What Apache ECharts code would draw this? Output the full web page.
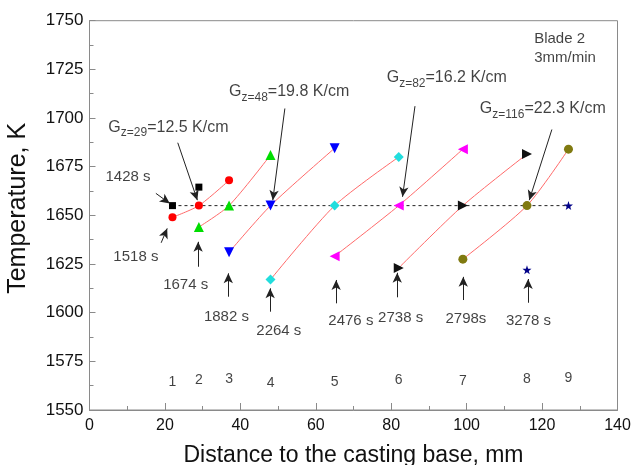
<!DOCTYPE html>
<html><head><meta charset="utf-8">
<script src="https://cdn.jsdelivr.net/npm/echarts@6/dist/echarts.min.js"></script>
<style>html,body{margin:0;padding:0;background:#fff}#c{width:632px;height:465px}</style>
</head><body><div id="c"></div>
<script>
// ---- data (distance mm, temperature K) ----
const curve1 = [[22, 1655], [29, 1664.5]];
const curve2 = [[22, 1649], [29, 1655], [37, 1668]];
const curve3 = [[29, 1644], [37, 1655], [48, 1681]];
const curve4 = [[37, 1631], [48, 1655], [65, 1684.5]];
const curve5 = [[48, 1617], [65, 1655], [82, 1680]];
const curve6 = [[65, 1629], [82, 1655], [99, 1684]];
const curve7 = [[82, 1623], [99, 1655], [116, 1681.5]];
const curve8 = [[99, 1627.5], [116, 1655], [127, 1684]];
const curve9 = [[116, 1622], [127, 1655]];

const isothermTemp = 1655;
const isothermRange = [22, 127];

const positionNumbers = ['1', '2', '3', '4', '5', '6', '7', '8', '9'];
const positionX = [22, 29, 37, 48, 65, 82, 99, 116, 127];
const positionNumberY = [1564.5, 1565.5, 1566, 1564, 1564.5, 1565.5, 1565, 1566, 1566.5];

const timeLabels = ['1428 s', '1518 s', '1674 s', '1882 s', '2264 s', '2476 s', '2738 s', '2798s', '3278 s'];
const timeLabelAt = [[10.2, 1669.6], [12.3, 1628.7], [25.5, 1614.5], [36.3, 1597.6], [50.2, 1590.6],
                     [69.3, 1595.9], [82.5, 1597.1], [99.8, 1596.6], [116.4, 1595.9]];
const timeArrows = [
  [[17.6, 1661.3], [21.3, 1656.1]],
  [[19.0, 1635.9], [20.6, 1643.3]],
  [[28.8, 1623.6], [28.8, 1636.4]],
  [[36.8, 1608.2], [36.8, 1620.2]],
  [[47.9, 1600.5], [47.9, 1612.5]],
  [[65.4, 1604.8], [65.4, 1616.8]],
  [[81.6, 1607.9], [81.6, 1620.5]],
  [[99.1, 1606.5], [99.1, 1618.4]],
  [[116.3, 1605.1], [116.3, 1617.3]]
];

const gzSub = ['z=29', 'z=48', 'z=82', 'z=116'];
const gzValue = ['=12.5 K/cm', '=19.8 K/cm', '=16.2 K/cm', '=22.3 K/cm'];
const gzLabelAt = [[5.0, 1695.3], [37.0, 1713.4], [78.8, 1720.8], [103.5, 1704.9]];
const gzArrows = [
  [[23.4, 1687.3], [28.6, 1657.8]],
  [[51.8, 1704.9], [48.6, 1657.8]],
  [[86.3, 1706.1], [83.0, 1659.5]],
  [[122.6, 1694.1], [116.6, 1657.8]]
];

const noteLines = ['Blade 2', '3mm/min'];
const noteAt = [[117.9, 1740.5], [117.9, 1730.7]];

// ---- styles ----
const FONT = '"Liberation Sans", Arial, sans-serif';
const TXT = '#111111';
const curveColor = '#ff6a6a';
const starPath = 'path://M0,-10L2.35,-3.24L9.51,-3.09L3.8,1.24L5.88,8.09L0,4L-5.88,8.09L-3.8,1.24L-9.51,-3.09L-2.35,-3.24Z';

const markerDefs = [
  {data: curve1, symbol: 'rect', size: 7, color: '#000000', rot: 0, line: false},
  {data: curve2, symbol: 'circle', size: 8, color: '#ff0000', rot: 0, line: true},
  {data: curve3, symbol: 'triangle', size: 10, color: '#00dd00', rot: 0, line: true},
  {data: curve4, symbol: 'triangle', size: 10, color: '#0000ff', rot: 180, line: true},
  {data: curve5, symbol: 'diamond', size: 10, color: '#22dddd', rot: 0, line: true},
  {data: curve6, symbol: 'triangle', size: 10, color: '#ff00ff', rot: 90, line: true},
  {data: curve7, symbol: 'triangle', size: 10, color: '#111111', rot: -90, line: true},
  {data: curve8, symbol: 'circle', size: 9, color: '#807a10', rot: 0, line: true},
  {data: curve9, symbol: starPath, size: 9, color: '#000088', rot: 0, line: false}
];

const series = [];

// isotherm dashed line + arrows
series.push({
  type: 'line',
  data: [[isothermRange[0], isothermTemp], [isothermRange[1], isothermTemp]],
  symbol: 'none',
  lineStyle: {color: '#222', width: 1, type: [3, 3]},
  silent: true, z: 1,
  markLine: {
    silent: true,
    symbol: ['none', 'arrow'],
    symbolSize: [7, 10],
    label: {show: false},
    lineStyle: {color: '#222', width: 1, type: 'solid'},
    emphasis: {disabled: true},
    data: timeArrows.concat(gzArrows).map(a => [{coord: a[0]}, {coord: a[1]}])
  }
});

markerDefs.forEach((m, i) => {
  series.push({
    type: 'line',
    name: 'pos' + (i + 1),
    data: m.data,
    smooth: 0.25,
    symbol: m.symbol,
    symbolSize: m.size,
    symbolRotate: m.rot,
    showAllSymbol: true,
    itemStyle: {color: m.color},
    lineStyle: m.line ? {color: curveColor, width: 1} : {width: 0, opacity: 0},
    silent: true, z: 3
  });
});

function labelSeries(points, texts, labelOpt) {
  return {
    type: 'scatter',
    data: points.map((p, i) => ({value: p, name: texts[i]})),
    symbolSize: 1,
    itemStyle: {color: 'rgba(0,0,0,0)'},
    silent: true, z: 5,
    label: Object.assign({show: true, position: 'inside', formatter: p => p.name,
      color: TXT, fontFamily: FONT}, labelOpt)
  };
}

series.push(labelSeries(timeLabelAt, timeLabels, {fontSize: 15}));
series.push(labelSeries(positionX.map((x, i) => [x, positionNumberY[i]]), positionNumbers, {fontSize: 14}));
series.push(labelSeries(noteAt, noteLines, {fontSize: 15, align: 'left'}));
series.push({
  type: 'scatter',
  data: gzLabelAt.map((p, i) => ({value: p, name: '{m|G}{s|' + gzSub[i] + '}{m|' + gzValue[i] + '}'})),
  symbolSize: 1,
  itemStyle: {color: 'rgba(0,0,0,0)'},
  silent: true, z: 5,
  label: {
    show: true, position: 'inside', align: 'left',
    formatter: p => p.name,
    rich: {
      m: {fontSize: 16, color: TXT, fontFamily: FONT},
      s: {fontSize: 12, color: TXT, fontFamily: FONT, padding: [12, 0, 0, 0]}
    }
  }
});

const chart = echarts.init(document.getElementById('c'), null, {renderer: 'canvas'});
chart.setOption({
  animation: false,
  backgroundColor: '#fff',
  grid: {left: 89.5, right: 14.5, top: 20.7, bottom: 55, containLabel: false, outerBoundsMode: 'none',
         show: true, borderColor: '#8a8a8a', borderWidth: 1, backgroundColor: 'transparent'},
  xAxis: {
    type: 'value', min: 0, max: 140, interval: 20,
    name: 'Distance to the casting base, mm', nameLocation: 'middle', nameGap: 34,
    nameTextStyle: {fontSize: 23, color: TXT, fontFamily: FONT},
    axisLine: {show: true, lineStyle: {color: '#8a8a8a'}},
    axisTick: {show: true, inside: true, length: 7, lineStyle: {color: '#8a8a8a'}},
    minorTick: {show: true, splitNumber: 2, length: 4, lineStyle: {color: '#8a8a8a'}},
    axisLabel: {fontSize: 16, color: TXT, fontFamily: FONT, margin: 8},
    splitLine: {show: false}
  },
  yAxis: {
    type: 'value', min: 1550, max: 1750, interval: 25,
    name: 'Temperature, K', nameLocation: 'middle', nameGap: 59,
    nameTextStyle: {fontSize: 25, color: TXT, fontFamily: FONT, padding: [0, 0, 0, 14]},
    axisLine: {show: true, lineStyle: {color: '#8a8a8a'}},
    axisTick: {show: true, inside: true, length: 6, lineStyle: {color: '#8a8a8a'}},
    minorTick: {show: true, splitNumber: 2, length: 4, lineStyle: {color: '#8a8a8a'}},
    axisLabel: {fontSize: 17, color: TXT, fontFamily: FONT, margin: 6, formatter: v => String(v)},
    splitLine: {show: false}
  },
  tooltip: {show: false},
  series: series
});
</script></body></html>
